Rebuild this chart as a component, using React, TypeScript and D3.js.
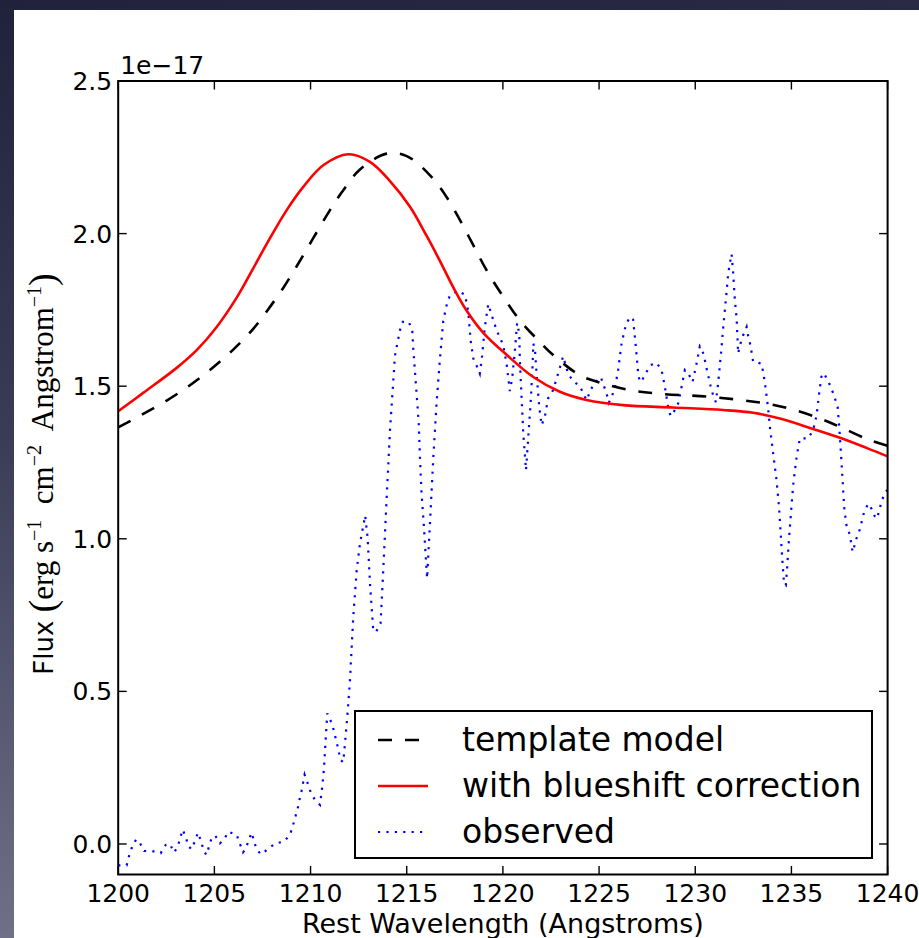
import React from "react";
import * as d3 from "d3";

const W = 919;
const H = 938;

const xTicks = [1200, 1205, 1210, 1215, 1220, 1225, 1230, 1235, 1240];
const yTicks = [0.0, 0.5, 1.0, 1.5, 2.0, 2.5];

const templWave = [1200, 1201.13, 1202.52, 1203.73, 1204.77, 1205.98, 1207.02, 1207.72, 1208.58, 1209.28, 1210.14, 1211.01, 1211.7, 1212.57, 1213.96, 1215.0, 1216.21, 1217.07, 1217.77, 1218.46, 1219.15, 1220.02, 1220.88, 1221.92, 1222.6, 1224.0, 1225.04, 1226.43, 1227.99, 1230.59, 1232.32, 1233.71, 1235.09, 1236.48, 1237.69, 1239.08, 1240];
const templFlux = [1.365, 1.403, 1.453, 1.503, 1.553, 1.62, 1.688, 1.745, 1.822, 1.893, 1.985, 2.077, 2.142, 2.21, 2.262, 2.254, 2.191, 2.12, 2.044, 1.962, 1.88, 1.793, 1.716, 1.645, 1.603, 1.536, 1.512, 1.489, 1.476, 1.466, 1.455, 1.443, 1.423, 1.394, 1.362, 1.323, 1.305];

const blueWave = [1200, 1201.3, 1203.04, 1204.08, 1205.12, 1206.16, 1207.02, 1207.89, 1208.76, 1209.62, 1210.66, 1211.96, 1213.09, 1214.13, 1215.17, 1216.03, 1216.73, 1217.42, 1218.11, 1218.98, 1220.19, 1221.58, 1222.96, 1224.35, 1226.25, 1228.85, 1231.45, 1233.01, 1234.4, 1236.13, 1237.52, 1238.9, 1240];
const blueFlux = [1.418, 1.478, 1.56, 1.618, 1.694, 1.79, 1.886, 1.985, 2.077, 2.153, 2.224, 2.26, 2.235, 2.172, 2.088, 1.993, 1.91, 1.824, 1.748, 1.675, 1.603, 1.53, 1.482, 1.455, 1.438, 1.43, 1.422, 1.413, 1.394, 1.36, 1.331, 1.298, 1.27];

const obsWave = [1200.0, 1200.44, 1200.56, 1200.72, 1200.93, 1201.13, 1201.34, 1201.76, 1202.21, 1202.47, 1202.69, 1202.9, 1203.09, 1203.21, 1203.35, 1203.52, 1203.64, 1203.82, 1203.99, 1204.15, 1204.3, 1204.44, 1204.58, 1204.72, 1204.86, 1205.05, 1205.29, 1205.51, 1205.72, 1206.16, 1206.33, 1206.49, 1206.64, 1206.78, 1206.94, 1207.07, 1207.23, 1207.46, 1207.82, 1208.19, 1208.62, 1208.93, 1209.07, 1209.2, 1209.33, 1209.43, 1209.54, 1209.69, 1209.85, 1210.01, 1210.23, 1210.49, 1210.61, 1210.7, 1210.78, 1210.87, 1211.13, 1211.36, 1211.56, 1211.7, 1211.79, 1211.91, 1212.05, 1212.22, 1212.4, 1212.57, 1212.84, 1212.97, 1213.09, 1213.26, 1213.4, 1213.64, 1213.78, 1213.96, 1214.13, 1214.39, 1214.65, 1214.79, 1215.11, 1215.29, 1215.34, 1215.48, 1215.62, 1215.69, 1215.77, 1215.88, 1216.06, 1216.21, 1216.38, 1216.55, 1216.73, 1216.9, 1217.1, 1217.25, 1217.65, 1218.03, 1218.2, 1218.32, 1218.46, 1218.66, 1218.8, 1218.92, 1219.06, 1219.24, 1219.38, 1219.67, 1220.02, 1220.19, 1220.36, 1220.48, 1220.62, 1220.74, 1220.85, 1220.88, 1220.97, 1221.06, 1221.2, 1221.32, 1221.44, 1221.54, 1221.58, 1221.67, 1221.75, 1221.89, 1222.01, 1222.18, 1222.35, 1222.61, 1222.87, 1223.13, 1223.39, 1223.65, 1224.0, 1224.35, 1224.52, 1224.73, 1225.09, 1225.39, 1225.51, 1225.65, 1225.82, 1225.99, 1226.17, 1226.39, 1226.6, 1226.77, 1226.86, 1226.95, 1227.03, 1227.12, 1227.24, 1227.47, 1227.68, 1227.99, 1228.25, 1228.42, 1228.59, 1228.72, 1228.85, 1229.11, 1229.29, 1229.46, 1229.63, 1229.86, 1230.07, 1230.24, 1230.36, 1230.5, 1230.59, 1230.8, 1230.93, 1231.07, 1231.19, 1231.28, 1231.37, 1231.45, 1231.54, 1231.63, 1231.71, 1231.8, 1231.89, 1231.97, 1232.06, 1232.15, 1232.23, 1232.32, 1232.49, 1232.67, 1232.75, 1232.87, 1233.01, 1233.45, 1233.57, 1233.67, 1233.79, 1233.88, 1234.05, 1234.23, 1234.36, 1234.45, 1234.54, 1234.62, 1234.71, 1234.78, 1234.87, 1234.98, 1235.09, 1235.27, 1235.44, 1235.87, 1236.13, 1236.31, 1236.44, 1236.56, 1236.68, 1236.91, 1237.1, 1237.26, 1237.4, 1237.48, 1237.57, 1237.66, 1237.74, 1237.86, 1238.04, 1238.18, 1238.26, 1238.38, 1238.55, 1238.78, 1238.99, 1239.16, 1239.33, 1239.45, 1239.59, 1239.71, 1239.89, 1240.0];
const obsFlux = [-0.07, -0.07, -0.04, -0.01, 0.015, 0.003, -0.023, -0.023, -0.03, -0.003, 0.0, -0.028, -0.01, 0.016, 0.047, 0.022, -0.007, -0.017, 0.01, 0.037, 0.01, -0.02, -0.036, -0.009, 0.02, 0.027, 0.002, 0.015, 0.04, 0.03, 0.0, -0.027, -0.015, 0.013, 0.037, 0.006, -0.022, -0.034, -0.014, 0.002, 0.008, 0.03, 0.057, 0.087, 0.116, 0.146, 0.176, 0.227, 0.199, 0.169, 0.144, 0.128, 0.188, 0.249, 0.337, 0.428, 0.391, 0.333, 0.275, 0.268, 0.33, 0.417, 0.537, 0.744, 0.897, 0.985, 1.076, 1.001, 0.854, 0.7, 0.695, 0.723, 0.897, 1.138, 1.356, 1.6, 1.684, 1.711, 1.711, 1.68, 1.624, 1.503, 1.383, 1.264, 1.149, 1.053, 0.87, 1.053, 1.263, 1.443, 1.593, 1.714, 1.773, 1.798, 1.812, 1.8, 1.744, 1.651, 1.591, 1.563, 1.541, 1.6, 1.694, 1.769, 1.74, 1.684, 1.634, 1.574, 1.484, 1.525, 1.613, 1.707, 1.672, 1.587, 1.465, 1.345, 1.225, 1.334, 1.443, 1.563, 1.64, 1.618, 1.541, 1.432, 1.372, 1.4, 1.46, 1.487, 1.541, 1.598, 1.541, 1.517, 1.5, 1.454, 1.481, 1.509, 1.53, 1.476, 1.446, 1.465, 1.492, 1.553, 1.64, 1.7, 1.727, 1.718, 1.662, 1.602, 1.541, 1.514, 1.52, 1.547, 1.569, 1.577, 1.553, 1.498, 1.432, 1.402, 1.411, 1.443, 1.498, 1.553, 1.543, 1.514, 1.574, 1.631, 1.62, 1.585, 1.558, 1.5, 1.47, 1.448, 1.509, 1.569, 1.629, 1.689, 1.749, 1.809, 1.869, 1.902, 1.933, 1.871, 1.782, 1.722, 1.607, 1.634, 1.667, 1.694, 1.664, 1.634, 1.58, 1.574, 1.531, 1.487, 1.427, 1.367, 1.28, 1.19, 1.1, 1.009, 0.919, 0.853, 0.848, 0.908, 0.996, 1.088, 1.176, 1.269, 1.329, 1.329, 1.356, 1.405, 1.476, 1.531, 1.543, 1.517, 1.489, 1.46, 1.432, 1.372, 1.285, 1.192, 1.105, 1.045, 1.012, 0.957, 0.974, 1.001, 1.03, 1.088, 1.115, 1.099, 1.074, 1.066, 1.099, 1.127, 1.154, 1.16];

const legendLabels = ["template model", "with blueshift correction", "observed"];

const SANS = "'DejaVu Sans', sans-serif";
const SERIF = "'Liberation Serif', 'DejaVu Serif', serif";

export default function App() {
  const left = 118.2, right = 887.6, top = 81, bottom = 874.5;
  const x = d3.scaleLinear().domain([1200, 1240]).range([left, right]);
  const y = d3.scaleLinear().domain([-0.1, 2.5]).range([bottom, top]);

  const smooth = d3
    .line<[number, number]>()
    .x((d) => x(d[0]))
    .y((d) => y(d[1]))
    .curve(d3.curveCatmullRom.alpha(0.5));
  const linear = d3
    .line<[number, number]>()
    .x((d) => x(d[0]))
    .y((d) => y(d[1]));

  const templPath = smooth(templWave.map((w, i) => [w, templFlux[i]]) as [number, number][]);
  const bluePath = smooth(blueWave.map((w, i) => [w, blueFlux[i]]) as [number, number][]);
  const obsPath = linear(obsWave.map((w, i) => [w, obsFlux[i]]) as [number, number][]);

  const tickLen = 8.5;
  const fs = 25;

  const legX = 355, legY = 711, legW = 517, legH = 147;
  const rowY = [740, 786, 832];
  const styles = [
    { stroke: "#000", dash: "14,13", width: 2.6 },
    { stroke: "#ff0000", dash: "none", width: 2.6 },
    { stroke: "#0000ff", dash: "2.2,6.2", width: 2.2 },
  ];

  return (
    <svg
      width={W}
      height={H}
      style={{ position: "absolute", left: 0, top: 0, display: "block" }}
      xmlns="http://www.w3.org/2000/svg"
    >
      <defs>
        <linearGradient id="bg" x1="0" y1="0" x2="0.15" y2="1">
          <stop offset="0" stopColor="#20213a" />
          <stop offset="0.45" stopColor="#3a3b55" />
          <stop offset="1" stopColor="#72728a" />
        </linearGradient>
        <clipPath id="plotclip">
          <rect x={left} y={top} width={right - left} height={bottom - top} />
        </clipPath>
      </defs>
      <rect x={0} y={0} width={W} height={H} fill="url(#bg)" />
      <rect x={14} y={10} width={W - 14} height={H - 10} fill="#ffffff" />

      <g clipPath="url(#plotclip)" fill="none">
        <path d={obsPath || ""} stroke="#0000ff" strokeWidth={2.2} strokeDasharray="2.2,6.2" />
        <path d={templPath || ""} stroke="#000" strokeWidth={2.6} strokeDasharray="14,13" />
        <path d={bluePath || ""} stroke="#ff0000" strokeWidth={2.6} />
      </g>

      <g stroke="#000" strokeWidth={1.4}>
        {xTicks.map((t) => (
          <g key={"xt" + t}>
            <line x1={x(t)} x2={x(t)} y1={bottom} y2={bottom - tickLen} />
            <line x1={x(t)} x2={x(t)} y1={top} y2={top + tickLen} />
          </g>
        ))}
        {yTicks.map((t) => (
          <g key={"yt" + t}>
            <line x1={left} x2={left + tickLen} y1={y(t)} y2={y(t)} />
            <line x1={right} x2={right - tickLen} y1={y(t)} y2={y(t)} />
          </g>
        ))}
      </g>

      <rect
        x={left}
        y={top}
        width={right - left}
        height={bottom - top}
        fill="none"
        stroke="#000"
        strokeWidth={2}
      />

      <g fontFamily={SANS} fontSize={fs} fill="#000">
        {xTicks.map((t) => (
          <text key={"xl" + t} x={x(t)} y={902} textAnchor="middle">
            {d3.format("d")(t)}
          </text>
        ))}
        {yTicks.map((t) => (
          <text key={"yl" + t} x={left - 6} y={y(t) + fs * 0.36} textAnchor="end">
            {d3.format(".1f")(t)}
          </text>
        ))}
        <text x={left + 2} y={74}>1e−17</text>
        <text x={(left + right) / 2} y={933} textAnchor="middle" fontSize={27}>
          Rest Wavelength (Angstroms)
        </text>
      </g>

      <text
        transform={`translate(53,474) rotate(-90)`}
        textAnchor="middle"
        fontSize={26}
        fill="#000"
        style={{ whiteSpace: "pre" }}
      >
        <tspan fontFamily={SANS}>Flux </tspan>
        <tspan fontFamily={SERIF} fontSize={38} dy={2}>(</tspan>
        <tspan fontFamily={SERIF} fontSize={31} dy={-2}>erg s</tspan>
        <tspan fontFamily={SERIF} fontSize={20} dy={-12}>−1</tspan>
        <tspan fontFamily={SERIF} fontSize={31} dy={12}>{"  cm"}</tspan>
        <tspan fontFamily={SERIF} fontSize={20} dy={-12}>−2</tspan>
        <tspan fontFamily={SERIF} fontSize={31} dy={12}>{"  Angstrom"}</tspan>
        <tspan fontFamily={SERIF} fontSize={20} dy={-12}>−1</tspan>
        <tspan fontFamily={SERIF} fontSize={38} dy={14}>)</tspan>
      </text>

      <rect x={legX} y={legY} width={legW} height={legH} fill="#fff" stroke="#000" strokeWidth={2} />
      {legendLabels.map((lab, i) => (
        <g key={lab}>
          <line
            x1={378}
            x2={428}
            y1={rowY[i]}
            y2={rowY[i]}
            stroke={styles[i].stroke}
            strokeWidth={styles[i].width}
            strokeDasharray={styles[i].dash}
          />
          <text x={462} y={rowY[i] + 11} fontFamily={SANS} fontSize={33} fill="#000">
            {lab}
          </text>
        </g>
      ))}
    </svg>
  );
}
